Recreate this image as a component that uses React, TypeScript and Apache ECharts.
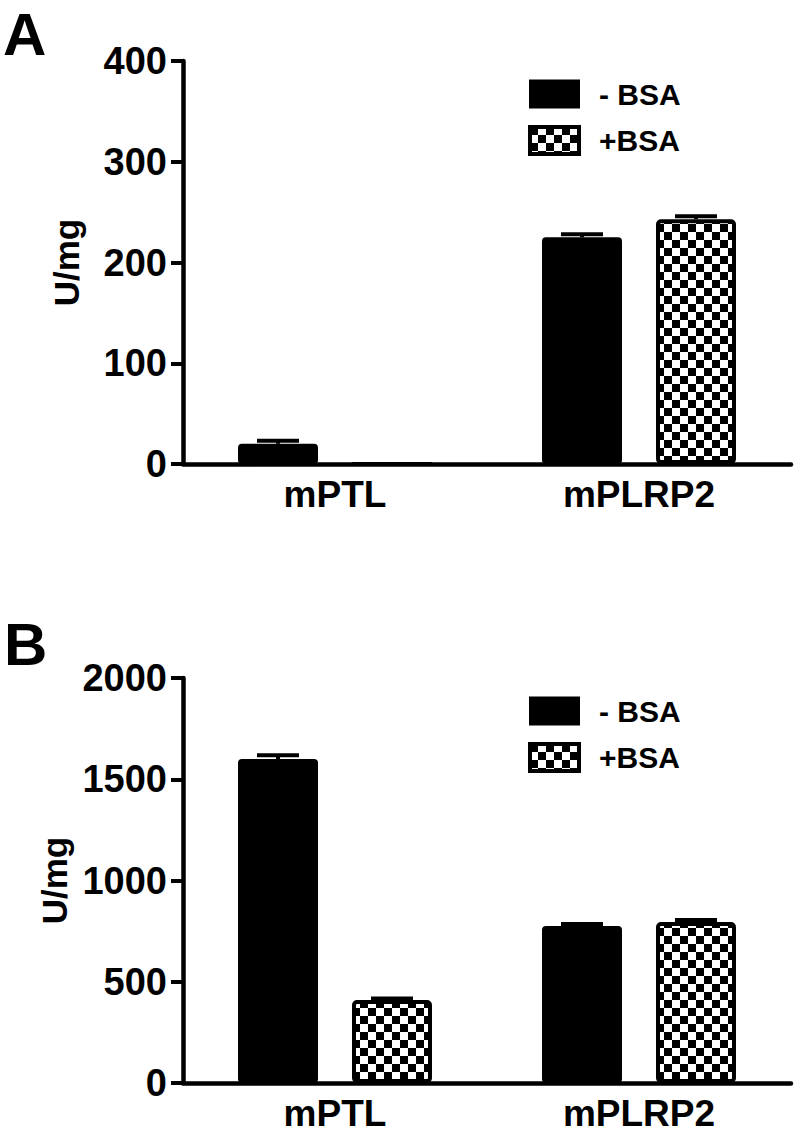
import React, { useEffect, useRef } from "react";
import * as echarts from "echarts";

const categories = ["mPTL", "mPLRP2"];
const seriesNames = ["- BSA", "+BSA"];

// Panel A (U/mg)
const aMinus = [20, 225];
const aMinusErr = [3, 3];
const aPlus = [0, 243];
const aPlusErr = [0, 3];
const aTicks = { min: 0, max: 400, interval: 100 };

// Panel B (U/mg)
const bMinus = [1600, 775];
const bMinusErr = [18, 10];
const bPlus = [410, 795];
const bPlusErr = [7, 10];
const bTicks = { min: 0, max: 2000, interval: 500 };

const FONT = "'Liberation Sans', Arial, Helvetica, sans-serif";

function makeChecker(): string {
  const c = document.createElement("canvas");
  c.width = 16;
  c.height = 16;
  const ctx = c.getContext("2d")!;
  ctx.fillStyle = "#fff";
  ctx.fillRect(0, 0, 16, 16);
  ctx.fillStyle = "#000";
  ctx.fillRect(0, 0, 8, 8);
  ctx.fillRect(8, 8, 8, 8);
  return c.toDataURL();
}

export default function App() {
  const ref = useRef<HTMLDivElement>(null);
  useEffect(() => {
    if (!ref.current) return;
    const chart = echarts.init(ref.current, undefined, { renderer: "svg" });
    const checker = { image: makeChecker(), repeat: "repeat", imageWidth: 16, imageHeight: 16 } as any;
    const BAR_W = 80;
    const OFFSET = 57;

    const errSeries = (gi: number, vals: number[], errs: number[], side: number) => ({
      type: "custom",
      xAxisIndex: gi,
      yAxisIndex: gi,
      z: 5,
      silent: true,
      data: vals.map((v, i) => [i, v, errs[i]]),
      renderItem: (params: any, api: any) => {
        const ci = api.value(0);
        const v = api.value(1);
        const e = api.value(2);
        if (!e) return { type: "group", children: [] };
        const base = api.coord([ci, v]);
        const top = api.coord([ci, v + e]);
        const x = base[0] + side * OFFSET;
        const st = { stroke: "#000", lineWidth: 4 };
        return {
          type: "group",
          children: [
            { type: "line", shape: { x1: x, y1: base[1], x2: x, y2: top[1] }, style: st },
            { type: "line", shape: { x1: x - 21, y1: top[1], x2: x + 21, y2: top[1] }, style: st },
          ],
        };
      },
    });

    const barSeries = (gi: number, name: string, vals: number[], plus: boolean) => ({
      type: "bar",
      name,
      xAxisIndex: gi,
      yAxisIndex: gi,
      barWidth: BAR_W,
      barGap: "42.5%",
      data: vals,
      itemStyle: plus
        ? { color: checker, borderColor: "#000", borderWidth: 4, borderRadius: 3 }
        : { color: "#000", borderColor: "#000", borderWidth: 2, borderRadius: 3 },
    });

    const xAxis = (gi: number) => ({
      type: "category",
      gridIndex: gi,
      data: categories,
      axisLine: { lineStyle: { color: "#000", width: 4.5 } },
      axisTick: { show: false },
      axisLabel: { color: "#000", fontSize: 37, fontWeight: "bold", fontFamily: FONT, margin: 12 },
    });

    const yAxis = (gi: number, t: { min: number; max: number; interval: number }) => ({
      type: "value",
      gridIndex: gi,
      min: t.min,
      max: t.max,
      interval: t.interval,
      name: "U/mg",
      nameLocation: "middle",
      nameGap: 99,
      nameTextStyle: { color: "#000", fontSize: 35, fontWeight: "bold", fontFamily: FONT },
      splitLine: { show: false },
      axisLine: { show: true, lineStyle: { color: "#000", width: 4.5 } },
      axisTick: { show: true, length: 12, lineStyle: { color: "#000", width: 4 } },
      axisLabel: {
        color: "#000",
        fontSize: 38,
        fontWeight: "bold",
        fontFamily: FONT,
        margin: 16,
        formatter: (v: number) => String(v),
      },
    });

    const legend = (top: number) => ({
      top,
      left: 528,
      padding: 0,
      orient: "vertical",
      icon: "rect",
      itemWidth: 49,
      itemHeight: 27,
      itemGap: 16,
      selectedMode: false,
      data: [
        { name: seriesNames[0] },
        { name: seriesNames[1], itemStyle: { borderColor: "#000", borderWidth: 4 } },
      ],
      textStyle: {
        color: "#000",
        fontSize: 30,
        lineHeight: 27,
        fontWeight: "bold",
        fontFamily: FONT,
        padding: [0, 0, 0, 15],
      },
    });

    chart.setOption({
      animation: false,
      backgroundColor: "#fff",
      grid: [
        { left: 183, right: 6, top: 61, height: 403 },
        { left: 183, right: 6, top: 678, height: 405 },
      ],
      legend: [legend(79), legend(696)],
      xAxis: [xAxis(0), xAxis(1)],
      yAxis: [yAxis(0, aTicks), yAxis(1, bTicks)],
      graphic: [
        { type: "text", left: 3, top: 4, style: { text: "A", font: `bold 60px ${FONT}`, lineHeight: 60, fill: "#000" } },
        { type: "text", left: 4, top: 614, style: { text: "B", font: `bold 60px ${FONT}`, lineHeight: 60, fill: "#000" } },
      ],
      series: [
        barSeries(0, seriesNames[0], aMinus, false),
        barSeries(0, seriesNames[1], aPlus, true),
        errSeries(0, aMinus, aMinusErr, -1),
        errSeries(0, aPlus, aPlusErr, 1),
        barSeries(1, seriesNames[0], bMinus, false),
        barSeries(1, seriesNames[1], bPlus, true),
        errSeries(1, bMinus, bMinusErr, -1),
        errSeries(1, bPlus, bPlusErr, 1),
      ],
    } as any);
    return () => chart.dispose();
  }, []);
  return <div ref={ref} style={{ position: "fixed", left: 0, top: 0, width: 797, height: 1135 }} />;
}
